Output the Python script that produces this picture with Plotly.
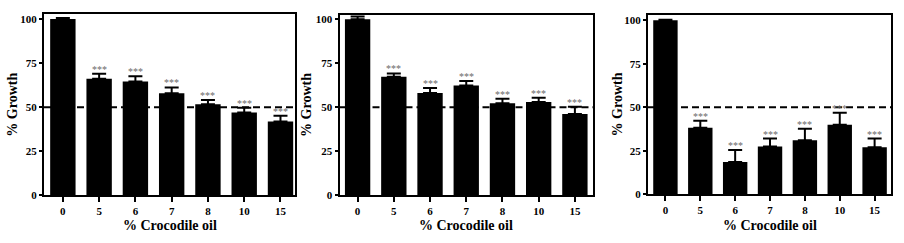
import plotly.graph_objects as go

categories = ["0", "5", "6", "7", "8", "10", "15"]

growth_a = [100.0, 66.1, 64.5, 57.9, 51.6, 46.9, 41.9]
err_a = [0.6, 2.8, 3.1, 3.3, 2.4, 2.7, 3.2]

growth_b = [100.0, 67.3, 58.1, 62.4, 52.2, 53.0, 46.1]
err_b = [1.5, 1.9, 2.8, 2.5, 2.6, 2.4, 4.1]

growth_c = [100.0, 38.2, 18.6, 27.4, 31.1, 40.0, 27.0]
err_c = [0.4, 4.1, 6.9, 4.6, 6.5, 6.9, 5.0]

sig_labels = ["", "***", "***", "***", "***", "***", "***"]
threshold = 50

x_title = "% Crocodile oil"
y_title = "% Growth"
y_ticks = [0, 25, 50, 75, 100]

W, H = 904, 243
FONT = "Liberation Serif"

panels = [
    dict(vals=growth_a, errs=err_a, xdom=(44, 295), ytop=13.5, ybot=200, xr=[-0.52, 6.4], yr=[0, 102.8], ytx=13),
    dict(vals=growth_b, errs=err_b, xdom=(339.5, 593), ytop=14, ybot=200, xr=[-0.5, 6.5], yr=[0, 102.6], ytx=307),
    dict(vals=growth_c, errs=err_c, xdom=(648, 891), ytop=14, ybot=199, xr=[-0.5, 6.47], yr=[0, 103.3], ytx=617),
]

fig = go.Figure()
annotations = []
shapes = []
layout = {}

for i, p in enumerate(panels, start=1):
    sfx = "" if i == 1 else str(i)
    xa, ya = "x" + sfx, "y" + sfx
    fig.add_trace(go.Bar(
        x=categories, y=p["vals"], xaxis=xa, yaxis=ya,
        marker=dict(color="black", line=dict(width=0)),
        width=0.7,
        error_y=dict(type="data", array=p["errs"], arrayminus=[0] * len(p["errs"]),
                     symmetric=False, color="black", thickness=2, width=7),
        showlegend=False,
    ))
    xd = [p["xdom"][0] / W, p["xdom"][1] / W]
    yd = [(H - p["ybot"]) / H, (H - p["ytop"]) / H]
    axis_common = dict(showline=True, linecolor="black", linewidth=2, mirror=True,
                       ticks="outside", tickcolor="black", tickwidth=1.5, ticklen=4,
                       showgrid=False, zeroline=False,
                       tickfont=dict(family=FONT, size=11, color="black", weight="bold"))
    layout["xaxis" + sfx] = dict(axis_common, domain=xd, anchor=ya, type="category",
                                 range=p["xr"], ticklen=5)
    layout["yaxis" + sfx] = dict(axis_common, domain=yd, anchor=xa, range=p["yr"],
                                 tickvals=y_ticks, ticklen=3)
    # dashed threshold line
    shapes.append(dict(type="line", xref=xa + " domain", yref=ya, x0=0, x1=1,
                       y0=threshold, y1=threshold,
                       line=dict(color="black", width=2, dash="7px,4px"), layer="above"))
    # significance markers (category axis -> position index)
    for idx, (v, e, s) in enumerate(zip(p["vals"], p["errs"], sig_labels)):
        if s:
            annotations.append(dict(x=idx, y=v + e, xref=xa, yref=ya, text=s,
                                    showarrow=False, yanchor="bottom", yshift=-3,
                                    font=dict(family=FONT, size=10, color="#6a6a6a")))
    # axis titles
    annotations.append(dict(x=(p["xdom"][0] + p["xdom"][1]) / 2 / W, y=(H - 231) / H,
                            xref="paper", yref="paper", text=x_title, showarrow=False,
                            xanchor="center", yanchor="middle",
                            font=dict(family=FONT, size=14, color="black", weight="bold")))
    annotations.append(dict(x=p["ytx"] / W, y=(H - (p["ytop"] + p["ybot"]) / 2) / H,
                            xref="paper", yref="paper", text=y_title, showarrow=False,
                            textangle=-90, xanchor="center", yanchor="middle",
                            font=dict(family=FONT, size=14, color="black", weight="bold")))

fig.update_layout(
    width=W, height=H,
    margin=dict(l=0, r=0, t=0, b=0),
    paper_bgcolor="white", plot_bgcolor="white",
    bargap=0.3,
    shapes=shapes, annotations=annotations,
    **layout,
)

fig.write_html("out.html")
